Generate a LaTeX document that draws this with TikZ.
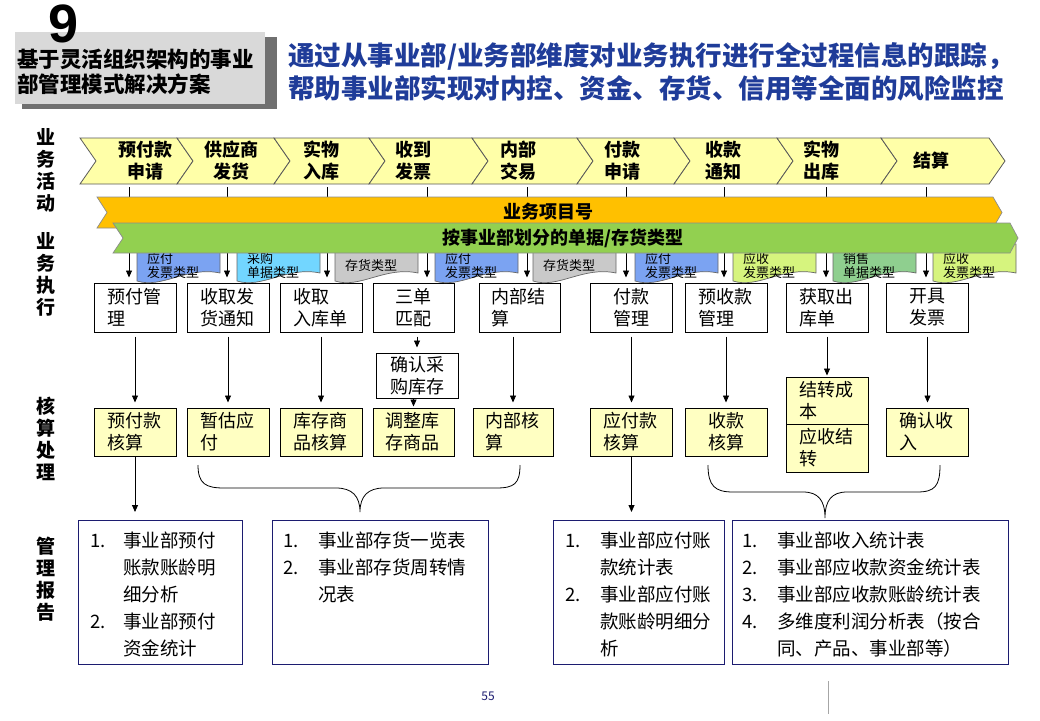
\documentclass[tikz,border=0pt]{standalone}
\usepackage{fontspec}
\setmainfont{Noto Sans CJK SC}
\newfontfamily\numfont{Liberation Sans}
\usepackage{xcolor}
\usepackage{tikz}
\usetikzlibrary{positioning, arrows.meta, calc}
\definecolor{chevyellow}{HTML}{FFFFA8}
\definecolor{acctyellow}{HTML}{FFFFC2}
\definecolor{bandorange}{HTML}{FFC000}
\definecolor{bandgreen}{HTML}{92D050}
\definecolor{docblue}{HTML}{7BA3F2}
\definecolor{doccyan}{HTML}{72D6FF}
\definecolor{docgray}{HTML}{C9C9C9}
\definecolor{docyellowgreen}{HTML}{D6F47E}
\definecolor{docgreen}{HTML}{8FCF8F}
\definecolor{titleblue}{HTML}{1F3C99}
\definecolor{reportnavy}{HTML}{1C1C70}
\definecolor{headgray}{HTML}{D9D9D9}
\definecolor{shadowgray}{HTML}{707070}

\tikzset{
  rowlabel/.style={font=\fontsize{19}{22}\selectfont\bfseries, align=center, inner sep=0pt},
  chevtxt/.style={font=\fontsize{18}{22}\selectfont\bfseries, align=center, inner sep=0pt},
  chev/.style={fill=chevyellow, draw=black!65, line width=0.8pt},
  execbox/.style={draw, line width=1pt, fill=white, minimum width=82pt, minimum height=49pt,
    font=\fontsize{18}{22}\selectfont, inner sep=0pt, text width=56pt, align=left},
  acctbox/.style={execbox, fill=acctyellow, minimum height=48pt},
  doctxt/.style={font=\fontsize{13}{14}\selectfont, anchor=west, align=left, inner sep=0pt},
  arr/.style={-{Triangle[length=7pt,width=6pt]}, line width=0.8pt, shorten >=5pt},
  brace/.style={line width=0.8pt},
  repbox/.style={draw=reportnavy, line width=1.2pt, minimum height=144pt, anchor=north west, inner sep=0pt},
  reptxt/.style={font=\fontsize{18.5}{27}\selectfont, anchor=north west, inner sep=0pt},
}

\begin{document}
\begin{tikzpicture}[x=1pt, y=-1pt]
  \useasboundingbox (0,0) rectangle (1040,720);

  % header
  \fill[shadowgray] (22,37) rectangle (277,109);
  \node[fill=headgray, minimum width=250pt, minimum height=72pt, anchor=north west, inner sep=0pt] (head) at (15,32) {};
  \node[font=\fontsize{21.5}{25}\selectfont\bfseries, anchor=west, align=left, inner sep=0pt] (headtxt) at (17,72)
    {基于灵活组织架构的事业\\部管理模式解决方案};
  \node[font=\numfont\fontsize{54}{54}\selectfont\bfseries, inner sep=0pt, text depth=0pt] (num) at (63.5,24) {9};
  \node[font=\fontsize{26.5}{33}\selectfont\bfseries, text=titleblue, anchor=west, align=left, inner sep=0pt] (title) at (288,71.5)
    {通过从事业部/业务部维度对业务执行进行全过程信息的跟踪，\\帮助事业部实现对内控、资金、存货、信用等全面的风险监控};

  % row labels
  \node[rowlabel] (lab1) at (46,170) {业\\务\\活\\动};
  \node[rowlabel] (lab2) at (46,274.5) {业\\务\\执\\行};
  \node[rowlabel] (lab3) at (46,438.5) {核\\算\\处\\理};
  \node[rowlabel] (lab4) at (46,579) {管\\理\\报\\告};

  % business activities
  \foreach \l/\r in {80/177,177/274,274/369,369/472,472/577,577/674,674/777,777/881,881/989}
    \draw[chev] (\l,138) -- (\r,138) -- (\r+16,161) -- (\r,184) -- (\l,184) -- (\l+16,161) -- cycle;
  \node[chevtxt] (a1) at (145,161) {预付款\\申请};
  \node[chevtxt] (a2) at (231,161) {供应商\\发货};
  \node[chevtxt] (a3) at (321,161) {实物\\入库};
  \node[chevtxt] (a4) at (413,161) {收到\\发票};
  \node[chevtxt] (a5) at (518,161) {内部\\交易};
  \node[chevtxt] (a6) at (622,161) {付款\\申请};
  \node[chevtxt] (a7) at (723,161) {收款\\通知};
  \node[chevtxt] (a8) at (821,161) {实物\\出库};
  \node[chevtxt] (a9) at (931,161) {结算};

  % execution boxes
  \node[execbox] (e1) at (135,307.5) {预付管\\理};
  \node[execbox] (e2) at (228,307.5) {收取发\\货通知};
  \node[execbox] (e3) at (321,307.5) {收取\\入库单};
  \node[execbox, minimum width=81pt, align=center] (e4) at (413.5,307.5) {三单\\匹配};
  \node[execbox, minimum width=81pt] (e5) at (519.5,307.5) {内部结\\算};
  \node[execbox, align=center] (e6) at (631.5,307.5) {付款\\管理};
  \node[execbox] (e7) at (726,307.5) {预收款\\管理};
  \node[execbox] (e8) at (827,307.5) {获取出\\库单};
  \node[execbox, align=center] (e9) at (927.5,307.5) {开具\\发票};

  % arrows under the bands
  \foreach \x [count=\i] in {129,227,327,427,527,626,724,826,926}
    \coordinate (t\i) at (\x,187);
  \foreach \i in {1,...,9}
    \draw[arr] (t\i) -- (e\i.north -| t\i);

  % document types
  \foreach \x/\c/\t in {137/docblue/{应付\\发票类型}, 237/doccyan/{采购\\单据类型}, 335/docgray/{存货类型},
                        435/docblue/{应付\\发票类型}, 533/docgray/{存货类型}, 635/docblue/{应付\\发票类型},
                        733/docyellowgreen/{应收\\发票类型}, 833/docgreen/{销售\\单据类型}, 933/docyellowgreen/{应收\\发票类型}}{
    \filldraw[fill=\c, draw=black!60, line width=0.7pt] (\x,250) -- (\x,281)
      .. controls (\x+25,289) and (\x+50,266) .. (\x+83,273) -- (\x+83,244)
      .. controls (\x+50,238) and (\x+25,259) .. (\x,250) -- cycle;
    \node[doctxt] at (\x+10,266) {\t};
  }

  % bands
  \draw[fill=bandorange, draw=black!45, line width=0.7pt]
    (97,197) -- (993,197) -- (1002,212.5) -- (993,228) -- (97,228) -- (107,212.5) -- cycle;
  \node[chevtxt] (b1) at (548,212) {业务项目号};
  \draw[fill=bandgreen, draw=black!45, line width=0.7pt]
    (113,223) -- (1010,223) -- (1018,238) -- (1010,253) -- (113,253) -- (123,238) -- cycle;
  \node[chevtxt] (b2) at (563,238) {按事业部划分的单据/存货类型};

  % accounting boxes
  \node[execbox, align=center, minimum height=45pt] (cf) at (417,375.5) {确认采\\购库存};
  \node[acctbox] (k1) at (135,432) {预付款\\核算};
  \node[acctbox] (k2) at (228,432) {暂估应\\付};
  \node[acctbox] (k3) at (321,432) {库存商\\品核算};
  \node[acctbox, minimum width=81pt] (k4) at (413.5,432) {调整库\\存商品};
  \node[acctbox, minimum width=80pt] (k5) at (513,432) {内部核\\算};
  \node[acctbox] (k6) at (631.5,432) {应付款\\核算};
  \node[acctbox, align=center] (k7) at (726,432) {收款\\核算};
  \node[acctbox, minimum height=47pt] (k8a) at (827,400.5) {结转成\\本};
  \node[acctbox] (k8b) at (827,448) {应收结\\转};
  \node[acctbox] (k9) at (927.5,432) {确认收\\入};

  \foreach \i in {1,2,3,5,6,7,9}
    \draw[arr, shorten <=4pt] (e\i.south -| k\i.north) -- (k\i.north);
  \draw[arr, shorten <=4pt, shorten >=1pt] (e8.south -| k8a.north) -- (k8a.north);
  \draw[arr, shorten <=4pt] (e4.south -| cf.north) -- (cf.north);
  \draw[arr, shorten >=1pt] (cf.south -| k4.north) -- (k4.north);

  % reports
  \node[repbox, minimum width=164pt] (r1) at (78,520) {};
  \node[repbox, minimum width=216pt] (r2) at (272,520) {};
  \node[repbox, minimum width=171pt] (r3) at (553,520) {};
  \node[repbox, minimum width=276pt] (r4) at (732,520) {};
  \node[reptxt] at ([shift={(12,8)}]r1.north west) {\begin{tabular}{@{}p{33pt}@{}l@{}}
    1. & 事业部预付\\ & 账款账龄明\\ & 细分析\\ 2. & 事业部预付\\ & 资金统计\end{tabular}};
  \node[reptxt] at ([shift={(11,8)}]r2.north west) {\begin{tabular}{@{}p{35pt}@{}l@{}}
    1. & 事业部存货一览表\\ 2. & 事业部存货周转情\\ & 况表\end{tabular}};
  \node[reptxt] at ([shift={(12,8)}]r3.north west) {\begin{tabular}{@{}p{35pt}@{}l@{}}
    1. & 事业部应付账\\ & 款统计表\\ 2. & 事业部应付账\\ & 款账龄明细分\\ & 析\end{tabular}};
  \node[reptxt] at ([shift={(10,8)}]r4.north west) {\begin{tabular}{@{}p{35pt}@{}l@{}}
    1. & 事业部收入统计表\\ 2. & 事业部应收款资金统计表\\ 3. & 事业部应收款账龄统计表\\
    4. & 多维度利润分析表（按合\\ & 同、产品、事业部等）\end{tabular}};

  \draw[arr, shorten >=8pt] (k1.south) -- (r1.north -| k1.south);
  \draw[arr, shorten >=8pt] (k6.south) -- (r3.north -| k6.south);

  % braces
  \draw[brace] (198,465) .. controls (198,484) and (206,488) .. (224,488) -- (336,488)
    .. controls (352,488) and (360,496) .. (360,512) .. controls (360,496) and (368,488) .. (384,488)
    -- (496,488) .. controls (514,488) and (520,484) .. (520,465);
  \draw[brace] (708,465) .. controls (708,486) and (715,492) .. (733,492) -- (803,492)
    .. controls (818,492) and (825,500) .. (825,518) .. controls (825,500) and (832,492) .. (847,492)
    -- (917,492) .. controls (935,492) and (940,486) .. (940,465);

  % footer
  \node[font=\fontsize{12}{14}\selectfont, text=reportnavy] (page) at (488,696) {55};
  \draw[black!35, line width=1pt] (828,681) -- (828,714);
\end{tikzpicture}
\end{document}
